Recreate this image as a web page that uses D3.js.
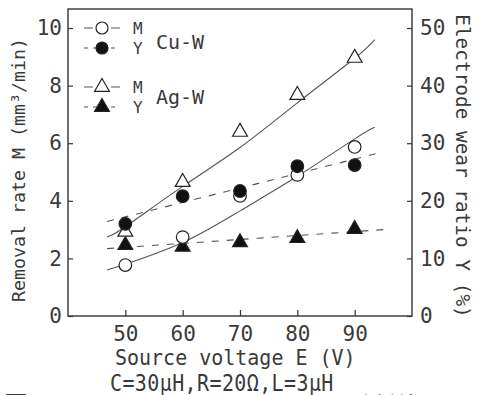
<!DOCTYPE html>
<html>
<head>
<meta charset="utf-8">
<script src="https://cdn.jsdelivr.net/npm/d3@7"></script>
<style>
  body { margin: 0; background: #fff; }
  text { font-family: "DejaVu Sans Mono", monospace; fill: #3a3a3a; }
</style>
</head>
<body>
<svg id="chart" width="484" height="395"></svg>
<script>
// measured points
var voltages = [50, 60, 70, 80, 90];
var mCuW = [1.77, 2.74, 4.17, 4.9, 5.87];     // mm3/min
var yCuW = [16.0, 20.8, 21.7, 26.0, 26.2];    // %
var mAgW = [2.92, 4.65, 6.39, 7.67, 8.96];    // mm3/min
var yAgW = [12.3, 12.0, 12.8, 13.5, 15.1];    // %

// drawn fit lines
var fitVolt = [46.8, 50, 60, 70, 80, 90, 93.5];
var fitMCuW = [1.6, 1.8, 2.55, 3.65, 4.85, 6.15, 6.55];
var fitMAgW = [2.74, 3.1, 4.5, 5.85, 7.4, 8.95, 9.6];
var fitYVolt = [46.8, 95];
var fitYCuW = [16.4, 28.5];
var fitYAgW = [11.7, 15.0];

var xTicks = [50, 60, 70, 80, 90];
var mTicks = [0, 2, 4, 6, 8, 10];
var yTicks = [0, 10, 20, 30, 40, 50];

var svg = d3.select("#chart");
var plotL = 68, plotR = 412, plotT = 9, plotB = 316;

var x = d3.scaleLinear().domain([40, 100]).range([plotL, plotR]);
var yM = d3.scaleLinear().domain([0, 10.66]).range([plotB, plotT]);
var yY = d3.scaleLinear().domain([0, 53.3]).range([plotB, plotT]);

var ink = "#333";

// frame
svg.append("rect")
  .attr("x", plotL).attr("y", plotT)
  .attr("width", plotR - plotL).attr("height", plotB - plotT)
  .attr("fill", "none").attr("stroke", ink).attr("stroke-width", 1.4);

// axes, ticks pointing inward
var gx = svg.append("g").attr("transform", "translate(0," + plotB + ")")
  .call(d3.axisBottom(x).tickValues(xTicks).tickSize(-6).tickPadding(10));
var gl = svg.append("g").attr("transform", "translate(" + plotL + ",0)")
  .call(d3.axisLeft(yM).tickValues(mTicks).tickSize(-5).tickPadding(6));
var gr = svg.append("g").attr("transform", "translate(" + plotR + ",0)")
  .call(d3.axisRight(yY).tickValues(yTicks).tickSize(-5).tickPadding(8));

[gx, gl, gr].forEach(function(g) {
  g.select(".domain").remove();
  g.selectAll(".tick line").attr("stroke", ink).attr("stroke-width", 1.2);
  g.selectAll(".tick text").attr("font-size", 21).attr("fill", "#3a3a3a")
    .style("font-family", "'DejaVu Sans Mono', monospace");
});

// fit lines
var line = d3.line().curve(d3.curveNatural);
function fitPath(xs, ys, yScale, dashed) {
  svg.append("path")
    .attr("d", line(xs.map(function(v, i) { return [x(v), yScale(ys[i])]; })))
    .attr("fill", "none").attr("stroke", "#555").attr("stroke-width", 1.1)
    .attr("stroke-dasharray", dashed ? "7,8" : null);
}
fitPath(fitVolt, fitMAgW, yM, false);
fitPath(fitVolt, fitMCuW, yM, false);
fitPath(fitYVolt, fitYCuW, yY, true);
fitPath(fitYVolt, fitYAgW, yY, true);

// markers
var tri = d3.symbol().type(d3.symbolTriangle).size(95);
function circles(vals, yScale, filled) {
  svg.append("g").selectAll("circle").data(vals).join("circle")
    .attr("cx", function(d, i) { return x(voltages[i]); })
    .attr("cy", function(d) { return yScale(d); })
    .attr("r", 6.3)
    .attr("fill", filled ? "#111" : "#fff")
    .attr("stroke", "#222").attr("stroke-width", 1.2);
}
function triangles(vals, yScale, filled) {
  svg.append("g").selectAll("path").data(vals).join("path")
    .attr("d", tri)
    .attr("transform", function(d, i) { return "translate(" + x(voltages[i]) + "," + yScale(d) + ")"; })
    .attr("fill", filled ? "#111" : "#fff")
    .attr("stroke", "#222").attr("stroke-width", 1.2);
}
triangles(yAgW, yY, true);
circles(mCuW, yM, false);
triangles(mAgW, yM, false);
circles(yCuW, yY, true);

// legend
var legend = [
  { y: 28, shape: "circle", filled: false, dashed: false, label: "M" },
  { y: 48, shape: "circle", filled: true, dashed: true, label: "Y" },
  { y: 87, shape: "tri", filled: false, dashed: false, label: "M" },
  { y: 107, shape: "tri", filled: true, dashed: true, label: "Y" }
];
legend.forEach(function(d) {
  svg.append("line").attr("x1", 84).attr("x2", 120).attr("y1", d.y).attr("y2", d.y)
    .attr("stroke", "#555").attr("stroke-width", 1.1)
    .attr("stroke-dasharray", d.dashed ? "4,5" : "9,18");
  if (d.shape === "circle") {
    svg.append("circle").attr("cx", 102).attr("cy", d.y).attr("r", 6)
      .attr("fill", d.filled ? "#111" : "#fff").attr("stroke", "#222").attr("stroke-width", 1.2);
  } else {
    svg.append("path").attr("d", tri).attr("transform", "translate(102," + d.y + ")")
      .attr("fill", d.filled ? "#111" : "#fff").attr("stroke", "#222").attr("stroke-width", 1.2);
  }
  svg.append("text").attr("x", 133).attr("y", d.y + 6).attr("font-size", 16).text(d.label);
});
svg.append("text").attr("x", 156).attr("y", 49).attr("font-size", 20).text("Cu-W");
svg.append("text").attr("x", 156).attr("y", 104).attr("font-size", 20).text("Ag-W");

// axis titles
svg.append("text").attr("transform", "translate(115,365) scale(1,1.08)").attr("font-size", 20)
  .text("Source voltage E (V)");
svg.append("text").attr("transform", "translate(110,391) scale(1,1.12)").attr("font-size", 20)
  .attr("letter-spacing", 0.4).text("C=30μH,R=20Ω,L=3μH");
svg.append("text")
  .attr("transform", "translate(25,170) rotate(-90)")
  .attr("text-anchor", "middle").attr("font-size", 18.3)
  .text("Removal rate M (mm³/min)");
svg.append("text")
  .attr("transform", "translate(456,166) rotate(90)")
  .attr("text-anchor", "middle").attr("font-size", 19.4)
  .text("Electrode wear ratio Y (%)");

// caption line, cut off at the bottom edge
svg.append("text").attr("x", 4).attr("y", 413).attr("font-size", 24)
  .style("font-family", "'Noto Sans CJK JP'").text("図2");
svg.append("text").attr("x", 352).attr("y", 413).attr("font-size", 22)
  .style("font-family", "'Noto Sans CJK JP'").text("消耗特");
</script>
</body>
</html>
